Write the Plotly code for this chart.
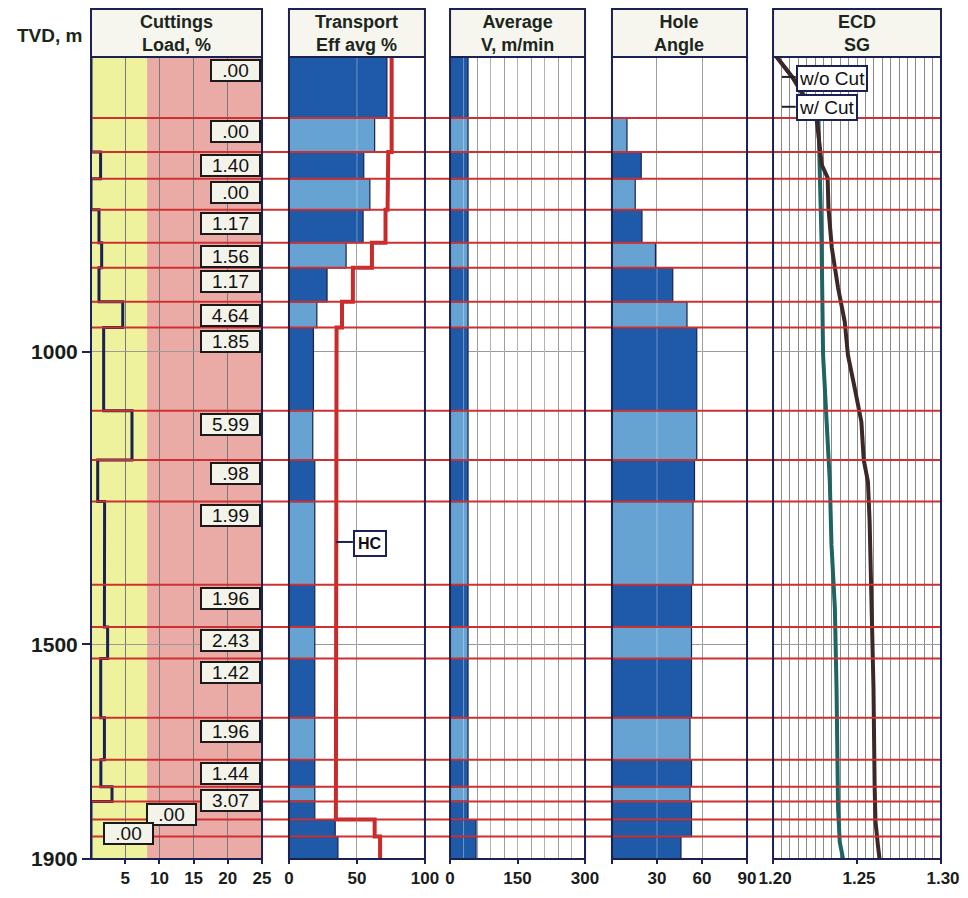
import plotly.graph_objects as go

# ---------------- data ----------------
# Depth axis (m, MD-scaled); section boundaries top -> bottom
SECTION_TOPS = [497, 601, 659, 705, 758, 814, 857, 915, 959, 1101, 1185,
                1256, 1398, 1470, 1524, 1625, 1697, 1743, 1768, 1799, 1828]
SECTION_BOTTOM = 1866
SECTION_SHADE = ["D", "L", "D", "L", "D", "L", "D", "L", "D", "L", "D",
                 "L", "D", "L", "D", "L", "D", "L", "D", "D", "D"]

CUTTINGS_LOAD = [0.00, 0.00, 1.40, 0.00, 1.17, 1.56, 1.17, 4.64, 1.85, 5.99, 0.98,
                 1.99, 1.96, 2.43, 1.42, 1.96, 1.44, 3.07, 0.00, 0.00, None]
TRANSPORT_EFF = [72, 63, 55, 59.5, 54.5, 42, 28, 20.5, 18, 17.5, 19,
                 19, 19, 19, 19, 19, 19, 19, 19, 34, 36]
TRANSPORT_HC = [75.5, 75.5, 73, 72.5, 71, 61, 47, 39, 35, 34.5, 34.5,
                34.5, 34.5, 34.5, 34.5, 34.5, 34.5, 34.5, 34.5, 63, 67]
AVG_VELOCITY = [40, 40, 40, 40, 40, 40, 40, 40, 40, 40, 40,
                40, 40, 40, 40, 40, 40, 40, 40, 58, 58]
HOLE_ANGLE = [0, 10, 19.5, 15.5, 20, 29, 40.5, 50, 56.5, 56.5, 55,
              54, 53, 53, 53, 52, 53, 52, 53, 53, 46]

ECD_W_DEPTH = [497, 533, 601, 681, 703, 755, 823, 891, 949, 1006, 1062, 1120, 1185,
               1222, 1290, 1432, 1500, 1574, 1744, 1802, 1842, 1866]
ECD_W_CUT = [1.2022, 1.2119, 1.2259, 1.2290, 1.2325, 1.2330, 1.2350, 1.2387, 1.2427,
             1.2446, 1.2486, 1.2526, 1.2540, 1.2565, 1.2575, 1.2585, 1.2595, 1.2598,
             1.2605, 1.2610, 1.2624, 1.2634]
ECD_WO_DEPTH = [497, 533, 601, 681, 813, 1006, 1120, 1185, 1222, 1330, 1437, 1574,
                1779, 1837, 1866]
ECD_WO_CUT = [1.2022, 1.2119, 1.2270, 1.2279, 1.2289, 1.2298, 1.2318, 1.2328, 1.2338,
              1.2348, 1.2368, 1.2378, 1.2387, 1.2397, 1.2417]

DEPTH_TICK_POS = [1000, 1500, 1866]
DEPTH_TICK_TEXT = ["1000", "1500", "1900"]

PANEL_TITLES = ["Cuttings<br>Load, %", "Transport<br>Eff avg %", "Average<br>V, m/min",
                "Hole<br>Angle", "ECD<br>SG"]

# ---------------- style / layout ----------------
FONT = "Liberation Sans"
NAVY = "#1b2150"
DARK_BLUE = "#1f5aa8"
LIGHT_BLUE = "#66a3d2"
RED = "#c92a2a"
GRID = "#8a8a8a"
YELLOW = "#eff29c"
PINK = "#eaaaa5"
CUTTINGS_WARN_LIMIT = 8.2
TEXT = "#1a1c1a"

# the page body has an 8px margin; keep the figure inside the window without scrolling
PAGE_PAD = 8
W, H = 968 - 2 * PAGE_PAD, 898 - 2 * PAGE_PAD
PLOT_TOP_WIN, PLOT_BOTTOM_WIN = 57, 859
PLOT_LEFT_WIN, PLOT_RIGHT_WIN = 91, 941
ML = PLOT_LEFT_WIN - PAGE_PAD
MR = PAGE_PAD + W - PLOT_RIGHT_WIN
MT = PLOT_TOP_WIN - PAGE_PAD
MB = PAGE_PAD + H - PLOT_BOTTOM_WIN
PLOT_W = W - ML - MR
PLOT_H = H - MT - MB


def paper_y(win_y):
    return (PLOT_BOTTOM_WIN - win_y) / PLOT_H


def paper_x(win_x):
    return (win_x - PLOT_LEFT_WIN) / PLOT_W


DOMAINS = [(0.0, 0.2012), (0.2329, 0.3929), (0.4224, 0.5812), (0.6129, 0.7718), (0.8024, 1.0)]

bottoms = SECTION_TOPS[1:] + [SECTION_BOTTOM]
mids = [(t + b) / 2 for t, b in zip(SECTION_TOPS, bottoms)]
heights = [b - t for t, b in zip(SECTION_TOPS, bottoms)]
shade_colors = [DARK_BLUE if s == "D" else LIGHT_BLUE for s in SECTION_SHADE]
px_per_m = PLOT_H / (SECTION_BOTTOM - SECTION_TOPS[0])

fig = go.Figure()


def step_xy(values):
    xs, ys = [], []
    for v, t, b in zip(values, SECTION_TOPS, bottoms):
        v = 0 if v is None else v
        xs += [v, v]
        ys += [t, b]
    return xs, ys


# Cuttings load step line
cx, cy = step_xy(CUTTINGS_LOAD)
fig.add_trace(go.Scatter(x=cx, y=cy, mode="lines", xaxis="x", yaxis="y",
                         line=dict(color=NAVY, width=3), hoverinfo="skip"))

# Bars for transport, velocity, hole angle
for vals, xa in [(TRANSPORT_EFF, "x2"), (AVG_VELOCITY, "x3"), (HOLE_ANGLE, "x4")]:
    fig.add_trace(go.Bar(x=vals, y=mids, width=heights, orientation="h", base=0,
                         xaxis=xa, yaxis="y", marker=dict(color=shade_colors,
                         line=dict(color=NAVY, width=1.2))))

# Transport HC red step line
hx, hy = step_xy(TRANSPORT_HC)
fig.add_trace(go.Scatter(x=hx, y=hy, mode="lines", xaxis="x2", yaxis="y",
                         line=dict(color=RED, width=4)))

# ECD curves
fig.add_trace(go.Scatter(x=ECD_WO_CUT, y=ECD_WO_DEPTH, mode="lines", xaxis="x5", yaxis="y",
                         line=dict(color="#1f6363", width=4)))
fig.add_trace(go.Scatter(x=ECD_W_CUT, y=ECD_W_DEPTH, mode="lines", xaxis="x5", yaxis="y",
                         line=dict(color="#3d2727", width=4)))

tickfont = dict(family=FONT, size=17, color=TEXT, weight="bold")
axis_common = dict(showline=False, zeroline=False, ticks="outside", ticklen=4, tickwidth=2,
                   tickcolor=NAVY, tickfont=tickfont, showgrid=True, gridcolor=GRID,
                   gridwidth=1, anchor="y", side="bottom", ticklabelstandoff=0,
                   fixedrange=True, automargin=False)

layout_axes = {}
layout_axes["xaxis"] = dict(axis_common, domain=DOMAINS[0], range=[0, 25],
                            tickmode="array", tickvals=[5, 10, 15, 20, 25], gridcolor="#7a7a7a")
layout_axes["xaxis2"] = dict(axis_common, domain=DOMAINS[1], range=[0, 100],
                             tickmode="array", tickvals=[0, 50, 100])
layout_axes["xaxis3"] = dict(axis_common, domain=DOMAINS[2], range=[0, 300],
                             tickmode="linear", tick0=0, dtick=150,
                             minor=dict(dtick=30, tick0=0, showgrid=True, gridcolor=GRID,
                                        gridwidth=1, ticks=""))
layout_axes["xaxis4"] = dict(axis_common, domain=DOMAINS[3], range=[0, 90],
                             tickmode="array", tickvals=[0, 30, 60, 90],
                             ticktext=["", "30", "60", "90"])
layout_axes["xaxis5"] = dict(axis_common, domain=DOMAINS[4], range=[1.20, 1.30],
                             tickmode="linear", tick0=1.20, dtick=0.05, tickformat=".2f",
                             ticklabelshift=2,
                             minor=dict(dtick=0.005, tick0=1.20, showgrid=True, gridcolor=GRID,
                                        gridwidth=1, ticks=""))

shapes = []
# Cuttings background bands
shapes.append(dict(type="rect", xref="x", yref="paper", x0=0, x1=CUTTINGS_WARN_LIMIT, y0=0, y1=1,
                   fillcolor=YELLOW, line=dict(width=0), layer="below"))
shapes.append(dict(type="rect", xref="x", yref="paper", x0=CUTTINGS_WARN_LIMIT, x1=25, y0=0, y1=1,
                   fillcolor=PINK, line=dict(width=0), layer="below"))

# Light overlay of gridlines across bars
for xa, pos in [("x2", [50]), ("x3", list(range(30, 300, 30))), ("x4", [30, 60])]:
    for p in pos:
        shapes.append(dict(type="line", xref=xa, yref="paper", x0=p, x1=p, y0=0, y1=1,
                           line=dict(color="rgba(255,255,255,0.35)", width=1), layer="above"))

# Red section boundary lines across all panels
for b in SECTION_TOPS[1:]:
    shapes.append(dict(type="line", xref="paper", yref="y", x0=0, x1=1, y0=b, y1=b,
                       line=dict(color="#cc3030", width=2), layer="above"))

# Header boxes and panel frames
HEAD_TOP = paper_y(9)
for d0, d1 in DOMAINS:
    shapes.append(dict(type="rect", xref="paper", yref="paper", x0=d0, x1=d1, y0=1.0, y1=HEAD_TOP,
                       fillcolor="#f6f6ee", line=dict(color=NAVY, width=2), layer="above"))
    shapes.append(dict(type="rect", xref="paper", yref="paper", x0=d0, x1=d1, y0=0, y1=1,
                       fillcolor="rgba(0,0,0,0)", line=dict(color=NAVY, width=2), layer="above"))

# Leader lines
HC_LABEL_X = 47
HC_LABEL_Y = 1328
shapes.append(dict(type="line", xref="x2", yref="y", x0=TRANSPORT_HC[12], x1=HC_LABEL_X,
                   y0=HC_LABEL_Y - 3, y1=HC_LABEL_Y - 3, line=dict(color=NAVY, width=2), layer="above"))
ECD_LABEL_X = 1.2135
ECD_LEADER_X0 = 1.2053
ECD_LABELS = [("w/o Cut", 533), ("w/ Cut", 584)]
for txt, yv in ECD_LABELS:
    shapes.append(dict(type="line", xref="x5", yref="y", x0=ECD_LEADER_X0, x1=ECD_LABEL_X,
                       y0=yv - 2, y1=yv - 2, line=dict(color="#222", width=2), layer="above"))

annotations = []
# Panel titles
head_mid = paper_y(33.5)
for (d0, d1), title in zip(DOMAINS, PANEL_TITLES):
    annotations.append(dict(text="<b>" + title + "</b>", x=(d0 + d1) / 2, y=head_mid,
                            xref="paper", yref="paper", showarrow=False, xanchor="center",
                            yanchor="middle", font=dict(family=FONT, size=18, color="#1c261c")))
annotations.append(dict(text="<b>TVD, m</b>", x=paper_x(49), y=paper_y(35),
                        xref="paper", yref="paper", showarrow=False,
                        xanchor="center", yanchor="middle",
                        font=dict(family=FONT, size=19, color="#1c261c")))

# Cuttings load value labels (shift left when they would overlap)
LABEL_SHIFTS = [0, 64, 107]
BOX_H_PX = 22
prev_top, level = None, 0
for v, t in zip(CUTTINGS_LOAD, SECTION_TOPS):
    if v is None:
        continue
    if prev_top is not None and (t - prev_top) * px_per_m < BOX_H_PX:
        level += 1
    else:
        level = 0
    prev_top = t
    txt = f"{v:.2f}"
    if txt.startswith("0"):
        txt = txt[1:]
    nd = sum(c.isdigit() for c in txt)
    tw = nd * 0.556 * 18 + 0.278 * 18
    annotations.append(dict(text=txt, x=25, y=t, xref="x", yref="y", showarrow=False,
                            xanchor="right", yanchor="top", xshift=-LABEL_SHIFTS[min(level, 2)] - 1,
                            yshift=-2, width=tw + 20, height=17, align="center",
                            bgcolor="#f3f3ea", bordercolor="#1a1a1a", borderwidth=2, borderpad=1,
                            font=dict(family=FONT, size=19, color="#111")))

annotations.append(dict(text="<b>HC</b>", x=HC_LABEL_X, y=HC_LABEL_Y, xref="x2", yref="y",
                        showarrow=False, xanchor="left", yanchor="middle", bgcolor="white",
                        bordercolor=NAVY, borderwidth=2, borderpad=3,
                        font=dict(family=FONT, size=16, color="#111")))
for txt, yv in ECD_LABELS:
    annotations.append(dict(text=txt, x=ECD_LABEL_X, y=yv, xref="x5", yref="y", showarrow=False,
                            xanchor="left", yanchor="middle", bgcolor="white", bordercolor=NAVY,
                            borderwidth=2, borderpad=1,
                            font=dict(family=FONT, size=19, color="#111")))

fig.update_layout(
    width=W, height=H, margin=dict(l=ML, r=MR, t=MT, b=MB, autoexpand=False),
    paper_bgcolor="white", plot_bgcolor="white", showlegend=False,
    barmode="overlay",
    yaxis=dict(type="linear", range=[SECTION_BOTTOM + 0.3, SECTION_TOPS[0]], anchor="x",
               tickmode="array", tickvals=DEPTH_TICK_POS, ticktext=DEPTH_TICK_TEXT,
               ticks="outside", ticklen=8, tickwidth=2, tickcolor=NAVY,
               tickfont=dict(family=FONT, size=21, color=TEXT, weight="bold"),
               showgrid=True, gridcolor="#9a9a9a", gridwidth=1, zeroline=False,
               showline=False, fixedrange=True, automargin=False),
    shapes=shapes, annotations=annotations,
    **layout_axes,
)

fig.write_html("out.html")
